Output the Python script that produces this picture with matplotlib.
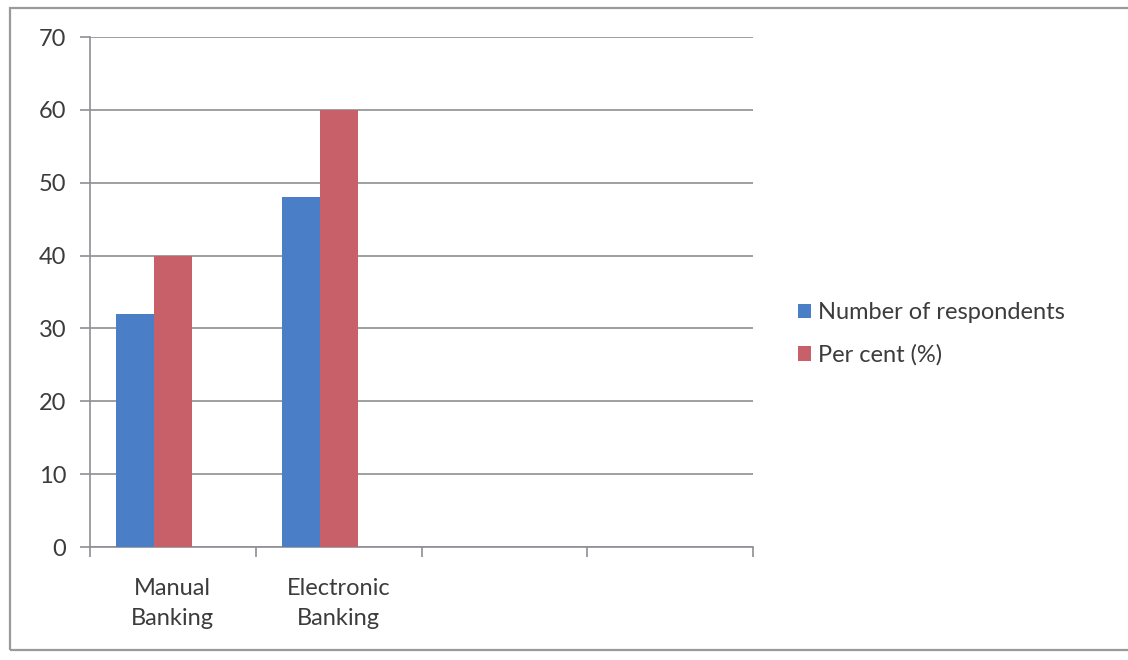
import matplotlib
matplotlib.use("Agg")
import matplotlib.pyplot as plt
from matplotlib.patches import Rectangle, Patch
import numpy as np

# Data
categories = ["Manual\nBanking", "Electronic\nBanking", "", ""]
respondents = [32, 48]
per_cent = [40, 60]
series_names = ["Number of respondents", "Per cent (%)"]
y_ticks = [0, 10, 20, 30, 40, 50, 60, 70]

blue = "#4a7ec6"
red = "#c8606a"
grid_col = "#8c8f94"
text_col = "#3c3c3c"

plt.rcParams["font.family"] = ["Lato", "DejaVu Sans"]

W, H = 1128, 660
fig = plt.figure(figsize=(W / 100, H / 100), dpi=100)
fig.patch.set_facecolor("white")

# Outer chart frame
frame = Rectangle((10 / W, 10 / H), 1.2, (H - 8 - 10) / H, transform=fig.transFigure,
                  fill=False, edgecolor="#9a9a9a", linewidth=1.6)
fig.add_artist(frame)

ax = fig.add_axes([90 / W, (H - 547) / H, (753 - 90) / W, (547 - 37) / H])
ax.set_facecolor("white")

x = np.arange(len(categories))
width = 0.229
n = len(respondents)
ax.bar(x[:n] - width, respondents, width, color=blue, align="center", zorder=3)
ax.bar(x[:n], per_cent, width, color=red, align="center", zorder=3)

ax.set_xlim(-0.5, len(categories) - 0.5)
ax.set_ylim(0, 70)
ax.set_yticks(y_ticks)
ax.yaxis.grid(True, color=grid_col, linewidth=1.2, zorder=0)
ax.set_axisbelow(True)

for s in ["top", "right"]:
    ax.spines[s].set_visible(False)
ax.spines["left"].set_color(grid_col)
ax.spines["bottom"].set_color(grid_col)
ax.spines["left"].set_linewidth(1.2)
ax.spines["bottom"].set_linewidth(1.2)

# Category boundaries as major ticks, labels centred in each slot
ax.set_xticks(np.arange(-0.5, len(categories), 1.0))
ax.set_xticklabels([])
ax.set_xticks(x, minor=True)
ax.set_xticklabels(categories, minor=True, fontsize=17, color=text_col, linespacing=1.55)
ax.tick_params(axis="x", which="major", length=7, width=1.2, color=grid_col, direction="out")
ax.tick_params(axis="x", which="minor", length=0, pad=22)
ax.tick_params(axis="y", length=7, width=1.2, color=grid_col, labelsize=17,
               labelcolor=text_col, pad=10)

handles = [Patch(facecolor=blue, label=series_names[0]),
           Patch(facecolor=red, label=series_names[1])]
fig.legend(handles=handles, loc="center left", bbox_to_anchor=(777 / W, 1 - 334 / H),
           frameon=False, fontsize=17, handlelength=0.55, handleheight=0.55,
           handletextpad=0.3, labelspacing=0.9, labelcolor=text_col)

fig.savefig("out.png", dpi=100, facecolor="white")
